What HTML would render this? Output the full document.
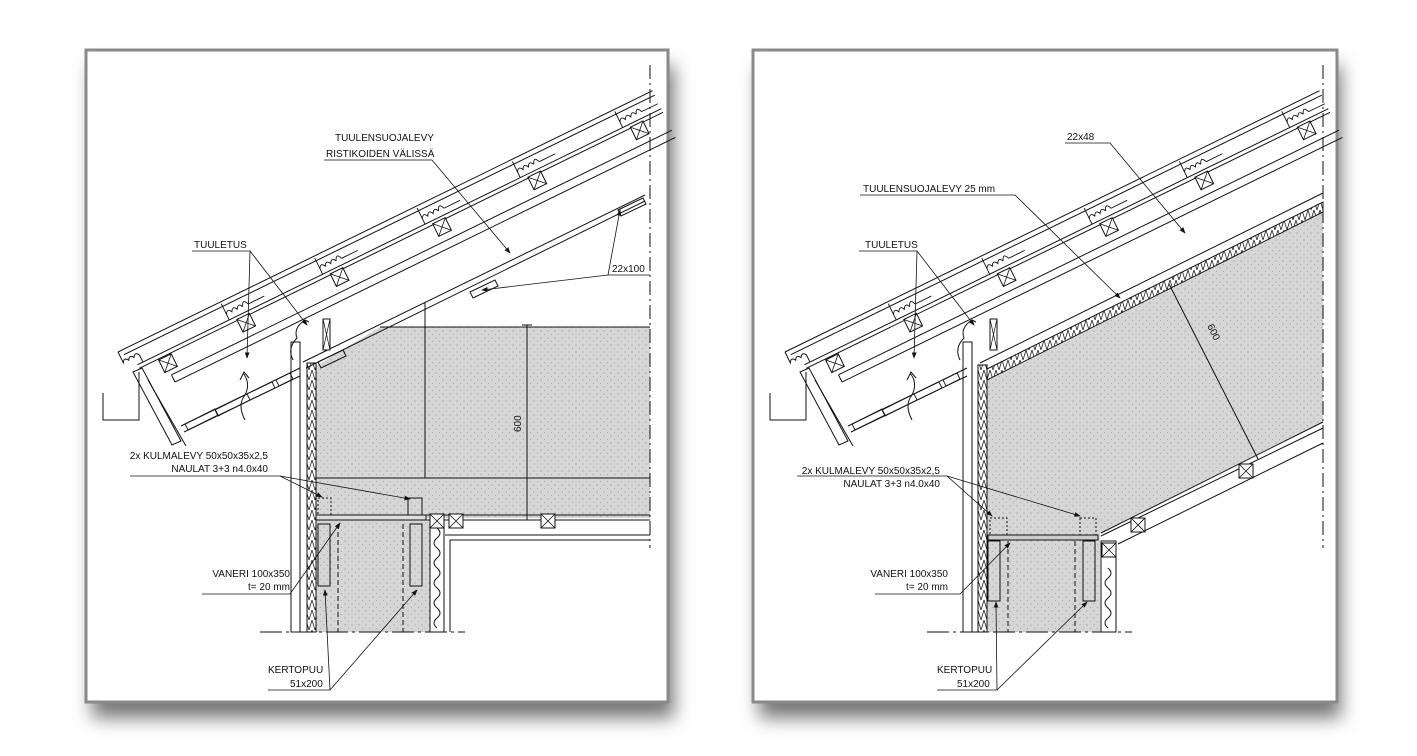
<!DOCTYPE html>
<html><head><meta charset="utf-8"><style>
html,body{margin:0;padding:0;background:#fff;width:1417px;height:756px;overflow:hidden}
svg{display:block}
text{font-family:"Liberation Sans",sans-serif;font-size:10px;fill:#111}
</style></head><body>
<svg width="1417" height="756" viewBox="0 0 1417 756" xmlns="http://www.w3.org/2000/svg">
<defs>
<filter id="sh" x="-10%" y="-10%" width="120%" height="130%"><feGaussianBlur stdDeviation="9"/></filter>
<pattern id="dots" width="7" height="7" patternUnits="userSpaceOnUse"><rect width="7" height="7" fill="#d6d6d6"/><circle cx="2" cy="2" r="0.6" fill="#999"/><circle cx="5.5" cy="5.5" r="0.6" fill="#aaa"/></pattern>
<pattern id="zig" width="6" height="10" patternUnits="userSpaceOnUse"><path d="M0 0 L3 10 L6 0" fill="none" stroke="#222" stroke-width="0.8"/></pattern>
<pattern id="zigh" width="10" height="6" patternUnits="userSpaceOnUse"><path d="M0 0 L10 3 L0 6" fill="none" stroke="#222" stroke-width="0.8"/></pattern>
<marker id="ar" markerWidth="8" markerHeight="6" refX="7" refY="3" orient="auto"><path d="M0 0 L8 3 L0 6z" fill="#111"/></marker>
<g id="xb"><rect x="-7" y="-7" width="14" height="14" fill="#fff" stroke="#111" stroke-width="1"/><path d="M-7 -7 L7 7 M7 -7 L-7 7" stroke="#111" stroke-width="0.8"/></g>
<g id="tile" fill="none" stroke="#111" stroke-width="0.9">
 <path d="M-14 2 V20 M-14 14 q3 -6 6 0 q3 -6 6 0 q3 -6 6 0 M4 14 q3 -8 6 0 M10 14 H28"/>
 <use href="#xb" x="0" y="30"/>
</g>
<g id="roof" fill="none" stroke="#111" stroke-width="1">
 <g transform="translate(118 352) rotate(-26.05)">
  <path d="M0 0 H595 M4 5 H595 M12 20 H595 M12 24 H595"/>
  <path d="M0 0 V12 q3 -5 6 0 q3 -5 6 0 q3 -5 6 0 V20"/>
  <path d="M38 44 H595 M38 52 H595" />
  <path d="M38 44 V52"/>
  <use href="#xb" x="40" y="32"/>
  <use href="#tile" x="128" y="0"/><use href="#tile" x="232" y="0"/><use href="#tile" x="346" y="0"/>
  <use href="#tile" x="452" y="0"/><use href="#tile" x="566" y="0"/>
 </g>
 <path d="M133 372 L172 445 L181 441 L142 368z"/>
 <path d="M148 380 L186 446"/>
 <path d="M181 426 L300 368 M184 432 L300 376"/>
 <g stroke-width="0.9">
  <path d="M185 424 l30 -15 l3 6 l-30 15z M215 410 l32 -16 l3 6 l-32 16z M247 394 l25 -12 l3 6 l-25 12z M276 380 l14 -7 l3 6 l-14 7z"/>
 </g>
 <path d="M103 393 V420 H139 V372"/>
 <path d="M245 420 q-8 -15 0 -25 q6 -12 -2 -22 M240 380 l4 -8 l5 6" />
 <path d="M293 360 q-6 -12 4 -22 q-4 -10 8 -18 l4 2"/>
 <rect x="323" y="319" width="7" height="31" fill="#fff"/><path d="M323 319 L330 350 M330 319 L323 350" stroke-width="0.7"/>
 <path d="M260 632 H465" stroke-dasharray="22 4 3 4"/>
</g>
</defs>

<!-- frames -->
<rect x="92" y="66" width="582" height="652" fill="#777" filter="url(#sh)"/>
<rect x="759" y="66" width="582" height="652" fill="#777" filter="url(#sh)"/>
<rect x="86" y="50" width="582" height="652" fill="#fff" stroke="#8a8a8a" stroke-width="3"/>
<rect x="753" y="50" width="584" height="652" fill="#fff" stroke="#8a8a8a" stroke-width="3"/>

<!-- LEFT PANEL -->
<g fill="none" stroke="#111" stroke-width="1">
 <polygon points="316,366 380,327 650,327 650,518 316,518" fill="url(#dots)" stroke="none"/>
 <polygon points="316,520 430,520 430,632 316,632" fill="url(#dots)" stroke="none"/>
 <path d="M303 362 L645 195 M306 368 L645 201"/>
 <path d="M470 292 l25 -12 l3 6 l-25 12z M618 210 l25 -12 l3 6 l-25 12z M318 362 l25 -12 l3 6 l-25 12z"/>
 <path d="M380 327 H650 M316 478 H650 M316 515 H650 M316 520 H650"/>
 <path d="M425 302 V478"/>
 <path d="M527 325 V520 M522 325 H532 M522 520 H532"/>
 <rect x="291" y="342" width="9" height="290"/>
 <rect x="307" y="363" width="9" height="269" fill="url(#zig)"/>
 <rect x="318" y="524" width="12" height="62"/><rect x="410" y="524" width="12" height="62"/>
 <path d="M338 524 V632 M403 524 V632" stroke-dasharray="5 3"/>
 <rect x="318" y="498" width="13" height="17" stroke-dasharray="2 2"/><rect x="408" y="498" width="14" height="17"/>
 <rect x="316" y="515" width="110" height="5" fill="#ddd"/>
 <rect x="430" y="522" width="14" height="110"/>
 <path d="M437 528 q6 5 0 10 q-6 5 0 10 q6 5 0 10 q-6 5 0 10 q6 5 0 10 q-6 5 0 10 q6 5 0 10 q-6 5 0 10 q6 5 0 10 q-6 5 0 10"/>
 <path d="M445 535 H650 M450 540 H650 M450 540 V632"/>
 <path d="M650 65 V548" stroke-dasharray="14 4 2 4"/>
</g>
<use href="#roof"/>
<use href="#xb" x="437" y="521"/><use href="#xb" x="456" y="521"/><use href="#xb" x="548" y="521"/>
<text x="521" y="432" transform="rotate(-90 521 432)" font-size="11">600</text>
<g fill="none" stroke="#111" stroke-width="0.8">
 <path d="M324 160 H432 L510 253" marker-end="url(#ar)"/>
 <path d="M192 251 H250 L247 358" marker-end="url(#ar)"/><path d="M250 251 L307 325" marker-end="url(#ar)"/>
 <path d="M650 275 H608 L620 210" marker-end="url(#ar)"/><path d="M608 275 L482 290" marker-end="url(#ar)"/>
 <path d="M130 476 H280 L322 497" marker-end="url(#ar)"/><path d="M280 476 L410 499" marker-end="url(#ar)"/>
 <path d="M202 594 H290 L340 523" marker-end="url(#ar)"/>
 <path d="M268 690 H330 L325 590" marker-end="url(#ar)"/><path d="M330 690 L417 590" marker-end="url(#ar)"/>
</g>
<text x="335" y="141">TUULENSUOJALEVY</text>
<text x="326" y="157">RISTIKOIDEN VÄLISSÄ</text>
<text x="194" y="248">TUULETUS</text>
<text x="612" y="272">22x100</text>
<text x="268" y="459" text-anchor="end">2x KULMALEVY 50x50x35x2,5</text>
<text x="268" y="472" text-anchor="end">NAULAT 3+3 n4.0x40</text>
<text x="290" y="577" text-anchor="end">VANERI 100x350</text>
<text x="290" y="590" text-anchor="end">t= 20 mm</text>
<text x="268" y="673">KERTOPUU</text>
<text x="290" y="687">51x200</text>

<!-- RIGHT PANEL -->
<g fill="none" stroke="#111" stroke-width="1">
 <polygon points="987,380 1323,212 1323,422 1101,533 987,533" fill="url(#dots)" stroke="none"/>
 <polygon points="987,533 1100,533 1100,632 987,632" fill="url(#dots)" stroke="none"/>
 <path d="M980 363 L1323 193"/>
 <polygon points="987,369 1323,202 1323,212 987,380" fill="url(#zig)"/>
 <path d="M1101 533 L1323 422 M1101 536 L1323 428 M1118 544 L1323 443"/>
 <path d="M1169 284 L1258 459"/>
 <rect x="963" y="342" width="9" height="290"/>
 <rect x="978" y="365" width="9" height="267" fill="url(#zig)"/>
 <rect x="988" y="541" width="12" height="60"/><rect x="1083" y="541" width="12" height="60"/>
 <path d="M1008 541 V632 M1075 541 V632" stroke-dasharray="5 3"/>
 <rect x="990" y="518" width="17" height="17" stroke-dasharray="2 2"/><rect x="1080" y="518" width="16" height="17" stroke-dasharray="2 2"/>
 <rect x="988" y="535" width="110" height="5" fill="#ccc"/>
 <rect x="1101" y="541" width="15" height="91"/>
 <path d="M1108 568 q6 5 0 10 q-6 5 0 10 q6 5 0 10 q-6 5 0 10 q6 5 0 10 q-6 5 0 10"/>
 <path d="M1116 545 V632"/>
 <path d="M1323 65 V548" stroke-dasharray="14 4 2 4"/>
</g>
<use href="#roof" x="667"/>
<use href="#xb" x="1246" y="471"/><use href="#xb" x="1138" y="525"/><use href="#xb" x="1109" y="550"/>
<text x="1207" y="326" transform="rotate(64 1207 326)" font-size="11">600</text>
<g fill="none" stroke="#111" stroke-width="0.8">
 <path d="M1065 143 H1110 L1185 233" marker-end="url(#ar)"/>
 <path d="M860 195 H1015 L1120 298" marker-end="url(#ar)"/>
 <path d="M859 251 H917 L914 358" marker-end="url(#ar)"/><path d="M917 251 L974 325" marker-end="url(#ar)"/>
 <path d="M797 476 H947 L992 516" marker-end="url(#ar)"/><path d="M947 476 L1080 516" marker-end="url(#ar)"/>
 <path d="M875 594 H960 L1010 543" marker-end="url(#ar)"/>
 <path d="M937 690 H997 L996 602" marker-end="url(#ar)"/><path d="M997 690 L1087 602" marker-end="url(#ar)"/>
</g>
<text x="1067" y="140">22x48</text>
<text x="863" y="192">TUULENSUOJALEVY 25 mm</text>
<text x="865" y="248">TUULETUS</text>
<text x="940" y="474" text-anchor="end">2x KULMALEVY 50x50x35x2,5</text>
<text x="940" y="487" text-anchor="end">NAULAT 3+3 n4.0x40</text>
<text x="948" y="577" text-anchor="end">VANERI 100x350</text>
<text x="948" y="590" text-anchor="end">t= 20 mm</text>
<text x="937" y="673">KERTOPUU</text>
<text x="957" y="687">51x200</text>
</svg>
</body></html>
